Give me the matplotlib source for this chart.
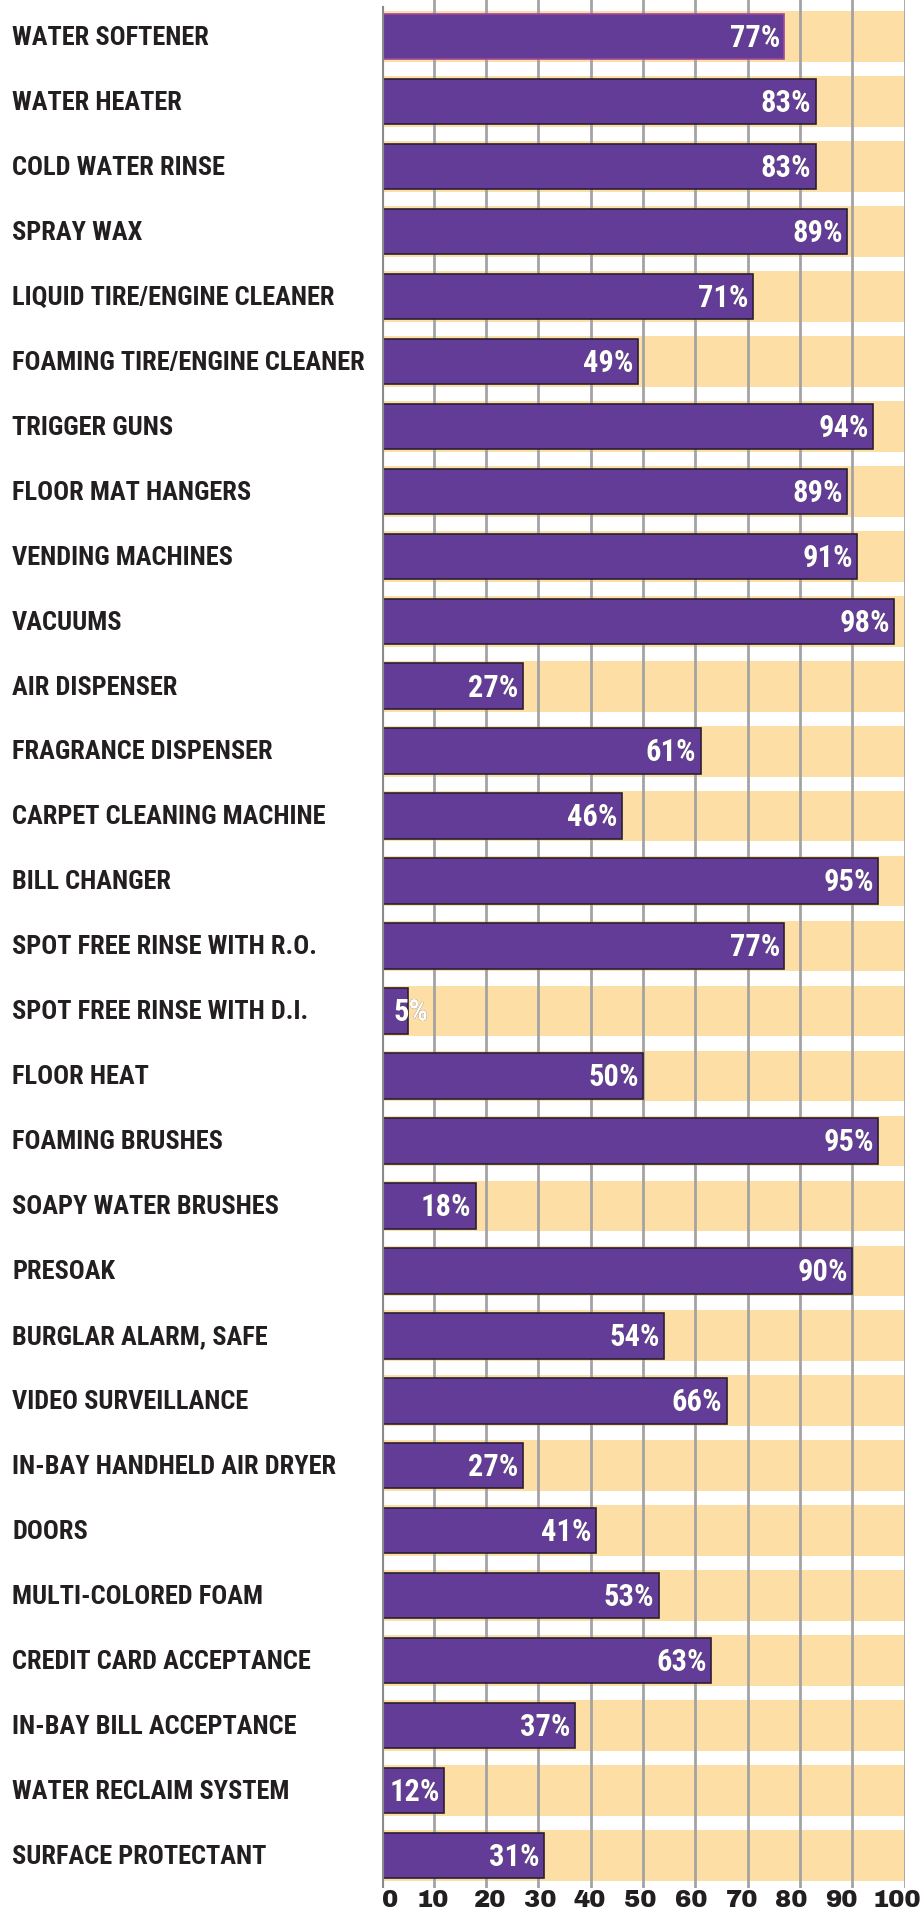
import matplotlib.pyplot as plt
import matplotlib.transforms as mtransforms

categories = [
    "WATER SOFTENER", "WATER HEATER", "COLD WATER RINSE", "SPRAY WAX",
    "LIQUID TIRE/ENGINE CLEANER", "FOAMING TIRE/ENGINE CLEANER", "TRIGGER GUNS",
    "FLOOR MAT HANGERS", "VENDING MACHINES", "VACUUMS", "AIR DISPENSER",
    "FRAGRANCE DISPENSER", "CARPET CLEANING MACHINE", "BILL CHANGER",
    "SPOT FREE RINSE WITH R.O.", "SPOT FREE RINSE WITH D.I.", "FLOOR HEAT",
    "FOAMING BRUSHES", "SOAPY WATER BRUSHES", "PRESOAK", "BURGLAR ALARM, SAFE",
    "VIDEO SURVEILLANCE", "IN-BAY HANDHELD AIR DRYER", "DOORS",
    "MULTI-COLORED FOAM", "CREDIT CARD ACCEPTANCE", "IN-BAY BILL ACCEPTANCE",
    "WATER RECLAIM SYSTEM", "SURFACE PROTECTANT",
]
values = [77, 83, 83, 89, 71, 49, 94, 89, 91, 98, 27, 61, 46, 95, 77, 5, 50,
          95, 18, 90, 54, 66, 27, 41, 53, 63, 37, 12, 31]
xticks = [0, 10, 20, 30, 40, 50, 60, 70, 80, 90, 100]
# label spots sit a little off the gridlines, pulled in at both ends
xlabel_pos = [1.6, 9.8, 20.7, 30.3, 39.9, 49.5, 59.3, 68.9, 78.4, 88.0, 98.6]

purple = "#633c97"
tan = "#fddfa6"
grid = "#a3a3a3"
ink = "#231f20"
cond = ["Roboto Condensed", "DejaVu Sans"]

fig = plt.figure(figsize=(9.24, 19.12), dpi=100)
ax = fig.add_axes([381.5 / 924, 24 / 1912, 523 / 924, 1888 / 1912])

n = len(values)
ys = list(range(n))

# tan background bands, full width
ax.barh(ys, [100] * n, height=0.78, color=tan, zorder=1, linewidth=0)

# vertical gridlines
for t in xticks[1:]:
    ax.axvline(t, color=grid, lw=2, zorder=2)
ax.axvline(0, color="#8a8a8a", lw=3, zorder=4, ymax=0.996)

edges = ["#a0479a"] + ["#2a2030"] * (n - 1)
bars = ax.barh(ys, values, height=0.70, color=purple, edgecolor=edges,
               linewidth=1.2, zorder=3)

tr = mtransforms.blended_transform_factory(fig.transFigure, ax.transData)
for y, name, v, bar in zip(ys, categories, values, bars):
    ax.text(12 / 924, y + 0.02, name, transform=tr, ha="left", va="center",
            family=cond, fontweight="bold", fontsize=19, color=ink)
    xr = max(v - 0.8, 9.0)
    label = f"{v}%"
    # dark copy shows where the label runs past a short bar
    ax.text(xr, y + 0.02, label, ha="right", va="center", family=cond,
            fontweight="bold", fontsize=22, color=ink, zorder=5)
    t = ax.text(xr, y + 0.02, label, ha="right", va="center", family=cond,
                fontweight="bold", fontsize=22, color="white", zorder=6)
    t.set_clip_path(bar)

ax.set_xlim(0, 100)
ax.set_ylim(n - 0.5, -36.6 / 64.95)
ax.set_xticks(xlabel_pos)
ax.set_xticklabels([str(t) for t in xticks], fontsize=17.5,
                   family=["Archivo Black", "DejaVu Sans"], color=ink)
ax.tick_params(axis="x", length=0, pad=1.5)
ax.set_yticks([])
for s in ax.spines.values():
    s.set_visible(False)

fig.savefig("out.png", dpi=100)
